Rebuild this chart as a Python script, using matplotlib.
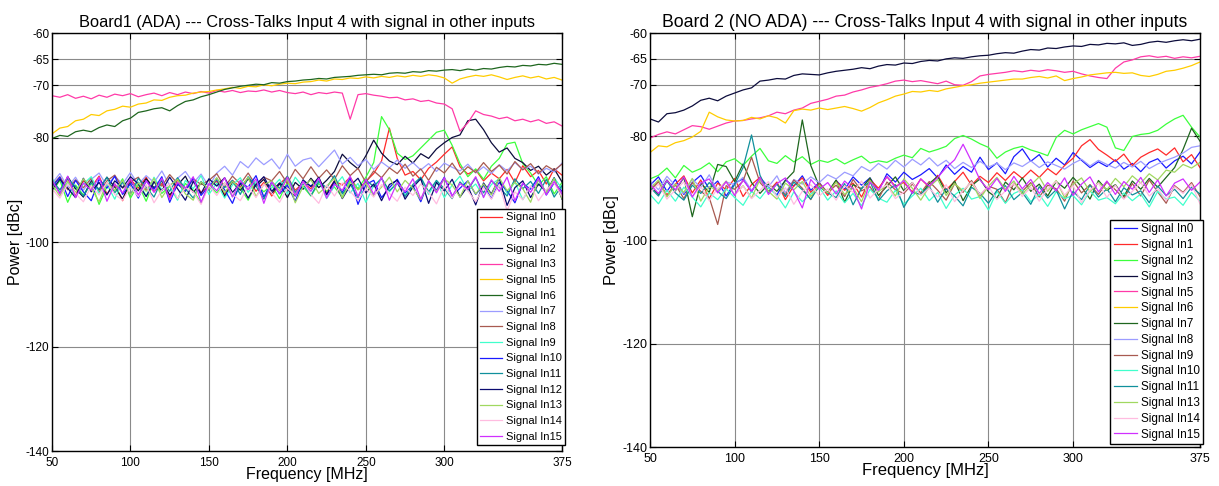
import numpy as np
import matplotlib.pyplot as plt

plt.rcParams['font.family'] = ['Liberation Sans', 'DejaVu Sans']
plt.rcParams['axes.unicode_minus'] = False

# spectrum analyser sweep, 5 MHz bins
freq = np.arange(50, 376, 5)

# ---------------- Board 1 (ADA) ----------------
b1_in0 = [-88.5, -90.2, -87.9, -91.0, -88.3, -89.6, -87.4, -90.8, -88.9, -92.1, -88.0,
          -89.7, -87.6, -90.4, -88.8, -91.5, -88.1, -89.9, -87.8, -90.6, -89.2, -88.4,
          -90.9, -88.2, -89.5, -87.7, -90.3, -88.6, -91.2, -88.9, -87.5, -90.1, -88.7,
          -89.8, -87.9, -90.5, -88.3, -89.1, -87.6, -90.0, -88.4, -86.9, -84.5, -78.2,
          -84.0, -87.2, -86.5, -88.1, -85.9, -84.7, -83.2, -81.8, -85.6, -87.0, -86.2,
          -88.3, -86.8, -87.9, -86.1, -88.6, -85.4, -87.5, -86.3, -88.9, -86.0, -87.2]
b1_in1 = [-90.5, -88.2, -92.4, -89.1, -91.0, -88.6, -92.8, -89.4, -90.2, -87.9, -91.6,
          -89.0, -92.2, -88.4, -90.7, -89.3, -91.8, -88.8, -90.1, -92.5, -89.2, -90.6,
          -88.7, -91.3, -89.6, -92.0, -88.9, -90.4, -89.1, -91.7, -88.5, -90.9, -89.4,
          -91.2, -88.8, -90.3, -89.5, -91.4, -88.1, -89.8, -87.6, -84.8, -76.0, -78.5,
          -83.0, -84.2, -83.5, -82.0, -80.5, -79.0, -78.6, -81.5, -85.0, -87.5, -86.0,
          -88.0, -85.5, -84.0, -81.2, -80.9, -85.0, -86.8, -89.2, -87.5, -90.8, -88.6]
b1_in2 = [-88.0, -90.6, -87.5, -89.8, -91.4, -88.2, -90.0, -87.6, -89.5, -91.8, -88.4,
          -90.2, -87.9, -89.6, -88.3, -91.0, -89.1, -87.4, -90.5, -88.7, -89.9, -87.8,
          -91.3, -88.5, -90.1, -87.9, -89.4, -88.0, -90.7, -88.8, -91.5, -88.6, -89.9,
          -87.8, -89.6, -88.2, -86.5, -83.2, -84.8, -86.0, -83.5, -80.5, -83.0, -84.5,
          -85.2, -83.6, -84.9, -83.1, -84.0, -82.2, -81.0, -80.0, -79.5, -76.8, -76.5,
          -78.5, -81.0, -82.8, -82.0, -84.0, -84.8, -86.3, -85.5, -87.2, -86.0, -88.5]
b1_in3 = [-72.0, -72.3, -71.8, -72.5, -72.1, -72.6, -71.9, -72.3, -71.7, -72.0, -71.6,
          -72.2, -71.8, -71.5, -72.0, -71.4, -71.8, -71.3, -71.6, -71.2, -71.5, -71.0,
          -71.3, -71.0, -71.4, -71.1, -71.2, -70.9, -71.3, -71.0, -71.4, -71.6, -71.3,
          -71.8, -71.4, -71.6, -71.3, -71.5, -76.5, -71.8, -71.6, -71.9, -72.1, -72.4,
          -72.3, -72.8, -72.6, -73.1, -72.9, -73.4, -73.6, -74.5, -78.8, -77.2, -74.9,
          -75.6, -75.9, -76.4, -76.1, -76.8, -76.5, -77.0, -76.6, -77.3, -77.0, -77.8]
b1_in5 = [-79.3, -78.2, -77.9, -76.8, -76.5, -75.6, -75.8, -74.9, -74.6, -74.0, -74.2,
          -73.6, -73.4, -72.8, -72.9, -72.3, -72.0, -71.9, -71.5, -71.3, -71.2, -70.9,
          -70.7, -70.4, -70.6, -70.2, -70.3, -69.9, -70.1, -69.8, -69.6, -69.7, -69.4,
          -69.3, -69.0, -69.2, -68.8, -68.9, -68.6, -68.7, -68.4, -68.6, -68.3, -68.5,
          -68.2, -68.4, -68.1, -68.3, -68.0, -68.2, -68.6, -69.6, -68.8, -68.4, -68.1,
          -68.3, -68.0, -68.4, -68.9, -68.5, -68.2, -68.6, -68.3, -68.8, -68.5, -69.0]
b1_in6 = [-80.2, -79.6, -79.8, -78.9, -78.6, -78.9, -78.1, -77.6, -77.9, -76.8, -76.3,
          -75.2, -74.9, -74.5, -74.3, -74.9, -73.9, -73.1, -72.8, -72.2, -71.8, -71.3,
          -70.8, -70.5, -70.2, -70.0, -69.8, -69.9, -69.5, -69.6, -69.3, -69.2, -69.0,
          -68.9, -68.7, -68.8, -68.5, -68.4, -68.3, -68.1, -68.0, -67.9, -68.0, -67.7,
          -67.6, -67.7, -67.4, -67.5, -67.2, -67.3, -67.1, -67.0, -67.2, -66.9, -67.1,
          -66.8, -66.9, -66.6, -66.4, -66.5, -66.2, -66.3, -66.0, -66.1, -65.8, -66.0]
b1_in7 = [-88.8, -86.9, -89.5, -87.6, -90.1, -88.0, -86.8, -89.3, -87.4, -88.9, -86.7,
          -89.0, -87.3, -88.6, -86.4, -89.2, -87.8, -86.5, -88.7, -87.0, -89.4, -86.8,
          -85.5, -87.2, -84.6, -85.8, -83.9, -85.2, -84.1, -86.0, -83.2, -85.5, -84.3,
          -83.9, -85.6, -84.0, -82.4, -85.1, -83.8, -85.4, -84.2, -86.1, -84.7, -85.8,
          -84.3, -85.9, -84.8, -86.2, -85.0, -86.5, -84.9, -85.7, -86.4, -85.1, -86.8,
          -85.6, -86.9, -85.2, -86.4, -84.8, -86.1, -85.5, -87.0, -85.9, -86.6, -84.9]
b1_in8 = [-89.2, -87.5, -90.0, -88.1, -89.6, -87.8, -90.4, -88.3, -87.2, -89.7, -88.5,
          -87.6, -90.1, -88.4, -89.3, -87.1, -88.8, -90.2, -87.9, -89.0, -88.2, -86.9,
          -89.5, -87.4, -88.9, -86.8, -89.2, -87.6, -88.3, -86.5, -88.8, -86.1, -87.9,
          -85.6, -87.8, -86.2, -88.0, -85.4, -87.3, -85.9, -88.6, -86.4, -87.7, -85.8,
          -86.9, -85.1, -87.4, -86.0, -88.2, -85.7, -86.8, -84.9, -87.1, -85.6, -86.7,
          -84.8, -86.5, -85.3, -87.0, -84.6, -86.2, -85.0, -86.9, -85.4, -86.3, -85.1]
b1_in9 = [-87.8, -90.3, -88.6, -91.4, -88.9, -87.5, -90.7, -89.0, -91.8, -88.3, -89.9,
          -88.5, -91.2, -87.6, -90.0, -89.4, -92.0, -88.2, -89.8, -87.3, -90.9, -88.7,
          -91.6, -89.1, -87.7, -90.5, -88.4, -91.3, -89.6, -88.0, -90.8, -87.6, -89.5,
          -90.2, -88.1, -91.7, -89.3, -87.5, -90.6, -88.8, -92.4, -89.2, -87.9, -90.4,
          -88.6, -91.0, -89.5, -87.8, -90.9, -88.3, -91.5, -89.1, -87.4, -90.2, -88.9,
          -91.3, -89.0, -87.9, -90.7, -88.5, -91.9, -89.4, -88.2, -90.5, -87.7, -89.8]
b1_in10 = [-89.5, -87.6, -91.3, -88.2, -90.4, -92.1, -88.0, -89.7, -87.4, -90.9, -88.8,
           -91.6, -88.3, -89.9, -87.5, -92.4, -88.9, -90.3, -87.8, -91.1, -89.2, -88.1,
           -90.0, -92.6, -88.7, -89.5, -87.3, -91.4, -88.5, -90.8, -89.1, -92.2, -88.4,
           -89.3, -87.9, -91.0, -88.6, -90.5, -87.7, -92.8, -89.0, -88.2, -91.5, -89.6,
           -88.0, -90.6, -89.2, -92.3, -88.4, -90.1, -87.6, -91.2, -89.7, -88.3, -90.9,
           -89.1, -91.7, -88.6, -90.2, -92.5, -88.8, -89.9, -87.5, -91.0, -88.7, -90.3]
b1_in11 = [-88.3, -90.0, -87.9, -89.4, -91.2, -88.7, -89.9, -87.6, -90.6, -88.5, -91.0,
           -87.8, -89.5, -91.4, -88.1, -90.3, -87.7, -89.8, -91.6, -88.4, -90.1, -87.9,
           -89.6, -88.2, -90.9, -87.5, -89.3, -91.8, -88.6, -89.7, -87.4, -90.5, -88.8,
           -91.1, -88.4, -89.6, -87.3, -90.8, -88.9, -91.5, -88.1, -89.4, -87.8, -90.2,
           -88.7, -91.3, -89.0, -87.6, -90.4, -88.2, -89.8, -91.7, -88.5, -90.0, -87.7,
           -90.6, -88.3, -89.5, -91.2, -87.9, -89.8, -88.4, -90.7, -88.0, -91.4, -89.2]
b1_in12 = [-90.1, -88.0, -89.7, -91.5, -87.8, -90.4, -88.6, -91.0, -88.3, -89.6, -87.5,
           -88.9, -91.3, -88.5, -90.2, -87.6, -89.8, -92.0, -88.4, -90.7, -87.9, -89.3,
           -87.7, -90.5, -88.8, -91.6, -89.0, -87.5, -90.3, -88.7, -89.9, -91.2, -88.1,
           -89.4, -87.6, -90.9, -88.3, -91.7, -89.2, -87.8, -90.6, -88.9, -92.1, -89.0,
           -88.2, -91.8, -89.5, -87.9, -92.6, -88.6, -90.2, -88.0, -91.4, -89.3, -92.9,
           -88.7, -90.8, -87.8, -93.0, -89.6, -88.3, -91.5, -88.9, -90.4, -87.7, -91.8]
b1_in13 = [-89.0, -91.2, -88.4, -90.5, -87.9, -89.7, -92.3, -88.6, -90.1, -88.2, -91.0,
           -88.7, -90.3, -87.8, -91.5, -89.2, -88.0, -90.8, -92.0, -88.5, -89.9, -87.7,
           -90.6, -88.4, -89.8, -87.6, -91.3, -89.0, -88.3, -90.2, -87.9, -92.5, -89.4,
           -88.1, -90.7, -89.3, -87.8, -91.6, -88.5, -90.0, -88.8, -91.1, -89.5, -87.6,
           -90.4, -88.2, -89.7, -91.9, -88.6, -90.3, -87.9, -89.1, -91.4, -88.3, -90.8,
           -88.9, -91.0, -87.7, -90.2, -88.6, -89.8, -92.4, -88.1, -90.5, -87.8, -91.7]
b1_in14 = [-89.8, -91.6, -88.9, -90.7, -92.3, -89.3, -91.0, -88.6, -90.9, -92.0, -89.5,
           -91.3, -89.0, -92.5, -90.1, -88.8, -91.7, -89.6, -90.4, -92.8, -89.2, -91.1,
           -88.7, -90.8, -92.1, -89.4, -91.5, -88.9, -90.6, -92.4, -89.7, -91.0, -88.5,
           -90.9, -92.6, -89.1, -91.2, -88.7, -90.3, -92.0, -89.8, -91.4, -89.0, -90.7,
           -92.2, -89.5, -91.1, -88.9, -90.5, -92.7, -89.3, -91.6, -88.8, -90.2, -92.3,
           -89.6, -91.8, -89.0, -94.0, -90.4, -91.9, -89.2, -92.1, -90.0, -88.7, -91.3]
b1_in15 = [-88.1, -90.8, -87.4, -91.5, -88.7, -90.1, -87.6, -92.2, -88.9, -90.6, -87.9,
           -91.0, -88.3, -90.5, -87.8, -91.9, -88.6, -89.7, -87.5, -92.4, -88.8, -90.2,
           -87.7, -91.4, -88.2, -90.0, -87.9, -92.6, -88.5, -90.7, -87.6, -91.1, -88.4,
           -90.3, -87.8, -91.6, -88.9, -90.1, -87.4, -91.3, -88.0, -90.9, -87.6, -92.0,
           -88.6, -90.4, -87.9, -91.8, -88.3, -90.6, -87.7, -91.2, -88.8, -89.9, -87.5,
           -91.5, -88.1, -90.3, -87.6, -92.1, -88.7, -90.5, -87.9, -91.0, -88.4, -90.8]

# ---------------- Board 2 (NO ADA) ----------------
b2_in0 = [-89.4, -87.8, -90.6, -88.3, -91.2, -88.9, -87.5, -90.1, -88.6, -91.5, -89.0,
          -88.2, -90.7, -87.9, -89.8, -91.3, -88.4, -89.6, -87.6, -90.4, -88.9, -91.0,
          -88.5, -90.2, -87.8, -89.4, -88.0, -90.5, -87.2, -88.8, -86.9, -88.3, -87.4,
          -86.2, -88.0, -85.5, -87.3, -85.8, -86.9, -84.0, -86.4, -85.1, -87.2, -83.9,
          -82.4, -84.8, -83.5, -85.9, -84.2, -85.5, -83.1, -84.6, -86.0, -84.9, -85.8,
          -84.5, -86.3, -85.2, -86.8, -85.0, -84.3, -86.1, -84.7, -83.8, -85.3, -83.0]
b2_in1 = [-90.5, -88.7, -91.3, -89.2, -87.6, -90.9, -88.4, -92.0, -89.0, -90.3, -88.1,
          -91.6, -89.3, -87.9, -90.6, -88.8, -92.2, -89.5, -88.0, -90.8, -89.1, -91.4,
          -88.6, -90.4, -89.0, -91.7, -88.3, -90.0, -87.8, -89.6, -88.9, -90.7, -88.2,
          -89.8, -87.5, -90.3, -88.7, -86.9, -89.4, -87.7, -88.9, -87.0, -88.5, -86.8,
          -88.1, -86.5, -87.9, -86.2, -87.4, -85.6, -84.2, -81.8, -80.6, -82.5, -83.6,
          -84.8, -83.4, -85.6, -84.0, -83.1, -82.4, -83.6, -82.2, -84.9, -83.5, -86.0]
b2_in2 = [-88.2, -87.5, -86.1, -88.0, -85.6, -86.9, -86.2, -85.1, -86.8, -84.9, -84.3,
          -85.6, -83.8, -82.3, -84.7, -85.2, -83.7, -84.9, -83.9, -85.4, -84.6, -85.0,
          -84.3, -85.3, -84.5, -83.8, -85.1, -84.7, -85.0, -84.2, -83.6, -84.1, -82.3,
          -83.0, -82.5, -81.9, -80.4, -79.8, -80.5, -81.4, -82.1, -84.2, -83.0, -82.3,
          -81.9, -82.6, -83.1, -83.7, -80.2, -78.8, -79.5, -78.7, -78.1, -77.5, -78.2,
          -82.2, -82.7, -80.0, -79.6, -79.4, -78.8, -77.6, -76.6, -75.9, -78.2, -80.1]
b2_in3 = [-76.6, -77.2, -75.6, -75.4, -74.9, -74.1, -73.0, -72.6, -73.1, -72.2, -71.6,
          -71.0, -70.6, -69.3, -69.1, -68.8, -68.9, -68.2, -67.9, -68.0, -68.1, -67.7,
          -67.4, -67.2, -67.0, -66.7, -66.9, -66.4, -66.1, -66.2, -65.8, -65.9, -65.5,
          -65.3, -65.4, -65.0, -64.8, -64.9, -64.6, -64.4, -64.3, -64.0, -63.8, -63.9,
          -63.5, -63.2, -63.3, -62.9, -63.0, -62.7, -62.5, -62.6, -62.2, -62.3, -62.0,
          -62.1, -61.9, -62.4, -62.2, -61.8, -61.6, -61.8, -61.5, -61.3, -61.5, -61.2]
b2_in5 = [-80.3, -79.6, -79.1, -79.5, -78.7, -77.9, -78.1, -78.6, -78.0, -77.4, -77.0,
          -76.9, -76.6, -76.4, -76.0, -75.3, -75.6, -74.9, -74.5, -73.6, -73.2, -72.8,
          -72.2, -72.0, -71.4, -71.0, -70.5, -70.2, -69.8, -69.3, -69.1, -69.4, -69.2,
          -69.5, -69.8, -69.3, -70.0, -70.1, -69.4, -68.3, -68.0, -67.8, -67.6, -67.3,
          -67.5, -67.2, -67.4, -67.1, -67.3, -67.6, -67.4, -67.9, -68.3, -68.6, -68.8,
          -66.8, -65.6, -65.2, -64.6, -64.4, -64.7, -64.5, -64.9, -64.6, -64.8, -64.5]
b2_in6 = [-83.1, -81.8, -82.0, -81.2, -80.8, -80.1, -79.0, -75.3, -76.2, -76.8, -77.0,
          -76.9, -76.3, -76.6, -76.0, -76.4, -77.4, -75.0, -74.7, -74.9, -74.5, -74.8,
          -74.5, -74.2, -74.6, -75.1, -74.4, -73.5, -72.9, -72.2, -71.8, -71.3, -71.4,
          -71.1, -71.3, -70.8, -70.5, -70.2, -70.0, -69.7, -69.5, -69.3, -69.1, -68.9,
          -68.9, -68.6, -68.4, -68.7, -68.3, -69.2, -68.8, -68.5, -68.1, -67.9, -67.7,
          -67.6, -67.8, -67.7, -68.2, -68.4, -68.0, -67.4, -67.2, -66.8, -66.3, -65.6]
b2_in7 = [-89.6, -91.2, -88.4, -90.5, -87.9, -95.5, -89.0, -90.8, -85.4, -85.8, -88.7,
          -85.3, -88.9, -91.0, -89.2, -90.6, -88.5, -86.8, -76.8, -85.6, -89.6, -90.8,
          -88.4, -92.7, -89.3, -90.1, -88.0, -91.4, -89.6, -87.8, -90.5, -88.9, -91.2,
          -89.1, -87.7, -90.9, -88.6, -92.4, -89.5, -88.2, -90.7, -91.9, -88.8, -90.3,
          -88.0, -90.6, -89.2, -91.5, -88.7, -90.0, -87.9, -89.7, -92.1, -88.5, -90.4,
          -89.3, -91.6, -88.6, -90.2, -88.1, -89.8, -87.9, -86.0, -82.5, -78.4, -80.9]
b2_in8 = [-88.6, -90.3, -87.7, -89.5, -91.0, -88.2, -89.9, -87.4, -90.6, -88.8, -89.3,
          -87.9, -90.4, -88.5, -89.7, -87.6, -90.9, -88.3, -89.2, -87.8, -88.9, -87.4,
          -88.2, -86.9, -87.6, -85.8, -86.7, -85.2, -86.3, -84.6, -85.9, -84.4, -85.5,
          -84.1, -85.7, -84.6, -86.2, -85.0, -86.0, -84.8, -85.9, -85.2, -86.4, -85.1,
          -85.8, -84.7, -86.0, -84.9, -85.6, -86.3, -85.2, -84.4, -85.7, -84.6, -85.4,
          -86.1, -85.0, -85.9, -84.8, -86.2, -85.3, -84.6, -84.0, -83.2, -82.1, -81.8]
b2_in9 = [-90.4, -88.7, -91.5, -89.3, -92.0, -88.9, -90.6, -91.8, -97.0, -89.5, -90.2,
          -88.6, -84.0, -88.9, -90.7, -89.1, -91.3, -88.4, -90.0, -92.2, -89.0, -90.8,
          -89.4, -91.6, -88.3, -90.5, -89.7, -92.1, -88.8, -90.3, -91.0, -89.2, -90.9,
          -88.7, -90.4, -92.3, -89.1, -90.8, -88.5, -91.4, -89.6, -90.2, -92.8, -89.0,
          -90.6, -88.9, -91.7, -89.4, -90.1, -92.5, -88.6, -90.9, -89.3, -91.2, -88.8,
          -90.3, -92.0, -89.1, -91.5, -88.4, -90.7, -92.9, -89.5, -90.8, -88.9, -91.6]
b2_in10 = [-91.2, -93.0, -90.4, -92.5, -89.8, -91.7, -93.6, -90.9, -92.2, -90.1, -91.8,
           -93.3, -90.6, -92.0, -89.9, -91.4, -93.8, -90.7, -92.6, -91.1, -89.8, -92.3,
           -90.5, -92.8, -91.0, -93.4, -90.2, -91.9, -92.7, -90.4, -93.1, -91.5, -90.0,
           -92.4, -90.8, -93.9, -91.3, -90.0, -92.1, -91.6, -94.2, -90.6, -92.9, -91.0,
           -90.3, -92.6, -91.2, -93.5, -90.7, -92.0, -91.4, -93.2, -90.5, -92.3, -91.8,
           -93.0, -90.9, -92.4, -91.1, -93.6, -90.6, -92.1, -91.7, -93.3, -90.8, -92.5]
b2_in11 = [-89.8, -91.5, -88.6, -90.9, -92.3, -89.4, -91.0, -88.9, -90.6, -92.0, -89.3,
           -86.0, -79.7, -87.5, -90.8, -89.2, -91.6, -88.8, -90.3, -92.1, -89.6, -90.9,
           -91.8, -89.1, -93.2, -90.0, -88.7, -92.4, -90.5, -89.3, -93.7, -90.8, -91.2,
           -89.6, -92.7, -90.1, -91.5, -93.4, -89.8, -91.0, -92.9, -90.4, -89.5, -92.2,
           -90.8, -93.1, -89.7, -91.9, -90.3, -94.0, -90.6, -92.2, -89.4, -91.7, -90.1,
           -92.6, -89.9, -91.3, -90.5, -92.8, -89.6, -91.4, -90.2, -92.0, -89.8, -91.1]
b2_in13 = [-90.1, -88.4, -91.7, -89.2, -90.8, -88.1, -92.5, -89.7, -90.4, -88.6, -91.3,
           -89.5, -91.9, -88.3, -90.6, -92.1, -89.0, -90.3, -88.7, -91.6, -89.4, -90.9,
           -88.8, -91.2, -89.9, -92.6, -88.5, -90.7, -89.3, -91.5, -88.2, -90.0, -92.3,
           -89.7, -88.3, -91.4, -89.1, -90.5, -88.8, -92.0, -89.6, -87.9, -90.2, -88.6,
           -91.1, -89.4, -87.8, -90.6, -88.5, -91.8, -89.2, -88.0, -90.7, -88.9, -90.3,
           -88.1, -89.7, -87.6, -89.0, -87.2, -88.4, -86.5, -86.9, -85.4, -86.1, -85.0]
b2_in14 = [-90.9, -89.2, -92.1, -90.3, -88.8, -91.6, -89.7, -92.4, -90.0, -88.9, -91.3,
           -89.6, -92.0, -90.4, -88.7, -91.8, -89.9, -93.1, -90.6, -89.3, -91.5, -90.1,
           -92.3, -89.5, -90.8, -88.6, -91.9, -90.2, -89.4, -92.0, -90.7, -88.9, -91.4,
           -90.0, -91.7, -89.3, -92.6, -90.4, -88.8, -91.2, -89.6, -92.2, -90.5, -89.1,
           -91.6, -89.8, -92.5, -90.1, -88.7, -91.3, -89.5, -92.8, -90.3, -89.0, -91.8,
           -89.4, -92.1, -90.6, -88.9, -91.5, -90.0, -92.4, -89.7, -91.0, -89.2, -93.0]
b2_in15 = [-89.2, -91.0, -88.5, -90.3, -87.8, -91.7, -89.0, -88.2, -90.9, -88.7, -91.4,
           -88.4, -90.6, -87.9, -91.2, -89.1, -88.0, -90.5, -93.8, -88.3, -90.2, -88.9,
           -91.1, -88.6, -90.1, -94.0, -88.8, -90.4, -87.7, -89.9, -88.5, -91.0, -88.2,
           -89.6, -87.9, -86.0, -84.5, -81.5, -84.8, -88.4, -90.3, -88.1, -90.6, -87.7,
           -90.1, -88.3, -91.0, -88.9, -90.5, -88.0, -91.4, -89.2, -87.8, -90.7, -88.6,
           -91.2, -88.7, -90.2, -87.9, -90.8, -88.4, -91.5, -89.0, -88.2, -90.4, -88.8]

c_red = '#ff2a2a'
c_green = '#3cff3c'
c_navy = '#0c0c3c'
c_pink = '#ff3aa8'
c_gold = '#ffcc00'
c_dkgreen = '#1e661e'
c_lav = '#9c9cff'
c_brown = '#a85a50'
c_aqua = '#40ffcc'
c_blue = '#1a1aff'
c_teal = '#10909c'
c_navy2 = '#0a0a70'
c_ygreen = '#a0d860'
c_lpink = '#ffbce0'
c_violet = '#d030ff'

board1 = [
    ('Signal In0', b1_in0, c_red),
    ('Signal In1', b1_in1, c_green),
    ('Signal In2', b1_in2, c_navy),
    ('Signal In3', b1_in3, c_pink),
    ('Signal In5', b1_in5, c_gold),
    ('Signal In6', b1_in6, c_dkgreen),
    ('Signal In7', b1_in7, c_lav),
    ('Signal In8', b1_in8, c_brown),
    ('Signal In9', b1_in9, c_aqua),
    ('Signal In10', b1_in10, c_blue),
    ('Signal In11', b1_in11, c_teal),
    ('Signal In12', b1_in12, c_navy2),
    ('Signal In13', b1_in13, c_ygreen),
    ('Signal In14', b1_in14, c_lpink),
    ('Signal In15', b1_in15, c_violet),
]
board2 = [
    ('Signal In0', b2_in0, c_blue),
    ('Signal In1', b2_in1, c_red),
    ('Signal In2', b2_in2, c_green),
    ('Signal In3', b2_in3, c_navy),
    ('Signal In5', b2_in5, c_pink),
    ('Signal In6', b2_in6, c_gold),
    ('Signal In7', b2_in7, c_dkgreen),
    ('Signal In8', b2_in8, c_lav),
    ('Signal In9', b2_in9, c_brown),
    ('Signal In10', b2_in10, c_aqua),
    ('Signal In11', b2_in11, c_teal),
    ('Signal In13', b2_in13, c_ygreen),
    ('Signal In14', b2_in14, c_lpink),
    ('Signal In15', b2_in15, c_violet),
]

xticks = [50, 100, 150, 200, 250, 300, 375]
yticks = [-140, -120, -100, -80, -70, -65, -60]

fig = plt.figure(figsize=(12.19, 4.86), dpi=100)
ax1 = fig.add_axes([52/1219, 1 - 451/486, 510/1219, 418/486])
ax2 = fig.add_axes([650/1219, 1 - 447/486, 550/1219, 414/486])

# the two boards were exported at slightly different scales
panels = [
    dict(ax=ax1, series=board1, anchor=(1.006, 0.014),
         title='Board1 (ADA) --- Cross-Talks Input 4 with signal in other inputs',
         tfs=11.8, lfs=11.5, kfs=8.5, gfs=8.0, lsp=0.51),
    dict(ax=ax2, series=board2, anchor=(1.006, 0.007),
         title='Board 2 (NO ADA) --- Cross-Talks Input 4 with signal in other inputs',
         tfs=12.7, lfs=12.0, kfs=9.0, gfs=8.5, lsp=0.32),
]

for p in panels:
    ax = p['ax']
    for label, vals, col in p['series']:
        ax.plot(freq, vals, color=col, lw=0.9, label=label)
    ax.set_xlim(50, 375)
    ax.set_ylim(-140, -60)
    ax.set_xticks(xticks)
    ax.set_yticks(yticks)
    ax.grid(True, color='#8a8a8a', lw=0.8)
    ax.tick_params(direction='in', length=4, labelsize=p['kfs'], top=True, right=True, pad=2)
    ax.tick_params(axis='x', pad=4)
    for sp in ax.spines.values():
        sp.set_linewidth(1.0)
    ax.set_title(p['title'], fontsize=p['tfs'], pad=4)
    ax.set_xlabel('Frequency [MHz]', fontsize=p['lfs'], labelpad=-1)
    ax.set_ylabel('Power [dBc]', fontsize=p['lfs'], labelpad=2)
    leg = ax.legend(loc='lower right', bbox_to_anchor=p['anchor'], borderaxespad=0,
                    fontsize=p['gfs'], fancybox=False, framealpha=1, edgecolor='black',
                    handlelength=2.0, handletextpad=0.3, labelspacing=p['lsp'],
                    borderpad=0.3)
    leg.get_frame().set_linewidth(1.0)

fig.savefig('out.png', dpi=100)
